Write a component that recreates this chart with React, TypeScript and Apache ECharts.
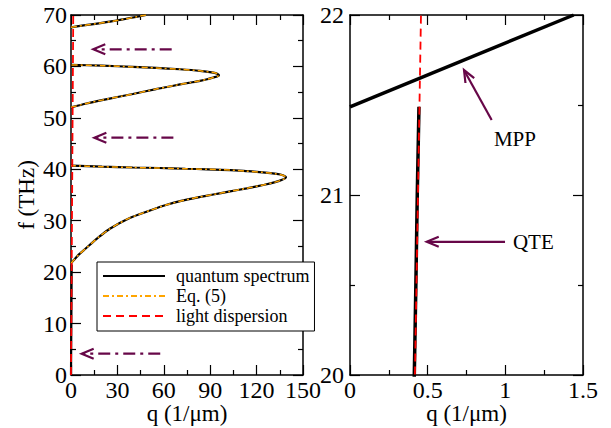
import React, { useEffect, useRef } from "react";
import * as echarts from "echarts";

const FONT = "'Liberation Serif', 'Times New Roman', serif";
const MAROON = "#670748";

// ---- data (q in 1/µm, f in THz) ----
const branch1Q = [0, 2, 5, 9.7, 14, 18.3, 24, 31.2, 37, 44.2, 52, 61.4, 70.5, 83, 92, 102, 113.6, 125, 132, 136.5, 139, 137, 133, 124, 113, 103, 88, 74, 57, 40, 20, 10, 0];
const branch1F = [21.7, 22.4, 23.4, 24.64, 25.8, 26.9, 28.2, 29.5, 30.4, 31.25, 32.1, 33.05, 33.8, 34.6, 35.1, 35.65, 36.3, 37.0, 37.5, 37.95, 38.45, 38.85, 39.1, 39.4, 39.65, 39.85, 40.0, 40.1, 40.25, 40.35, 40.5, 40.6, 40.7];
const branch2Q = [0, 10, 20, 30, 40, 55, 62, 70.5, 77, 83.4, 88, 92, 94.5, 95.7, 94.5, 92, 83.4, 70.5, 55, 40, 20, 0];
const branch2F = [52.05, 52.8, 53.45, 54.05, 54.64, 55.6, 56.0, 56.5, 56.85, 57.2, 57.5, 57.85, 58.05, 58.3, 58.6, 58.8, 59.15, 59.45, 59.7, 59.9, 60.15, 60.3];
const branch3Q = [0, 27, 48.5];
const branch3F = [67.6, 68.8, 70];
const qteQ = [0, 0.414, 0.424, 0.433, 0.444];
const qteF = [0, 20, 20.5, 21, 21.49];
const mppQ = [0, 1.44];
const mppF = [21.49, 22.0];
const lightQ = [0, 0.418, 0.457, 1.454];
const lightF = [0, 20, 22, 70];

// arrows: [qStart, fStart, qEnd(head), fEnd(head)]
const leftArrows = [
  [65.1, 63.33, 14.4, 63.33],
  [66.2, 46.14, 15.1, 46.14],
  [57.7, 4.14, 6.9, 4.14],
];
const rightArrows = [
  [0.912, 21.417, 0.734, 21.694],
  [0.998, 20.74, 0.494, 20.74],
];
const annText = ["MPP", "QTE"];
const annQ = [1.062, 1.18];
const annF = [21.31, 20.74];

const legendNames = ["quantum spectrum", "Eq. (5)", "light dispersion"];

const leftXTicks = { min: 0, max: 150, interval: 30 };
const leftYTicks = { min: 0, max: 70, interval: 10 };
const rightXTicks = { min: 0, max: 1.5, interval: 0.5 };
const rightYTicks = { min: 20, max: 22, interval: 1 };

const pairs = (q: number[], f: number[]) => q.map((v, i) => [v, f[i]]);

function axisCommon(showLabels: boolean, name?: string, nameGap?: number, labelMargin = 5) {
  return {
    type: "value",
    name: name || "",
    nameLocation: "middle",
    nameGap: nameGap || 0,
    nameMoveOverlap: false,
    nameTextStyle: { fontFamily: FONT, fontSize: 23, color: "#000", lineHeight: 22 },
    axisLine: { show: true, onZero: false, lineStyle: { color: "#000", width: 1.5 } },
    axisTick: { show: true, inside: true, length: 10, lineStyle: { color: "#000", width: 1.2 } },
    minorTick: { show: true, splitNumber: 2, length: 5, lineStyle: { color: "#000", width: 1.2 } },
    splitLine: { show: false },
    minorSplitLine: { show: false },
    axisLabel: {
      show: showLabels,
      fontFamily: FONT,
      fontSize: 24,
      lineHeight: 20,
      color: "#000",
      margin: labelMargin,
    },
  };
}

function arrowRender(dash: number[] | null) {
  return (params: any, api: any) => {
    const p1 = api.coord([api.value(0), api.value(1)]);
    const p2 = api.coord([api.value(2), api.value(3)]);
    const ang = Math.atan2(p2[1] - p1[1], p2[0] - p1[0]);
    const L = 12;
    const W = 5;
    const c = Math.cos(ang);
    const s = Math.sin(ang);
    const bx = p2[0] - L * c;
    const by = p2[1] - L * s;
    const h1 = [bx - W * s, by + W * c];
    const h2 = [bx + W * s, by - W * c];
    return {
      type: "group",
      children: [
        {
          type: "line",
          shape: { x1: p1[0], y1: p1[1], x2: p2[0] - 1 * c, y2: p2[1] - 1 * s },
          style: { stroke: MAROON, lineWidth: 2.2, lineDash: dash || undefined, fill: null },
        },
        {
          type: "polyline",
          shape: { points: [h1, p2, h2] },
          style: { stroke: MAROON, lineWidth: 2.2, fill: null },
        },
      ],
    };
  };
}

export default function App() {
  const ref = useRef<HTMLDivElement>(null);

  useEffect(() => {
    if (!ref.current) return;
    const chart = echarts.init(ref.current, undefined, { renderer: "svg" });

    const blackLeft = { color: "#000", width: 2.2, type: "solid" };
    const orange = { color: "#FFA500", width: 1.5, type: [6, 3, 2, 3] };
    const redDash = { color: "#FF0000", width: 1.8, type: [8, 5] };
    const blackRight = { color: "#000", width: 3.5, type: "solid" };

    const lineSeries = (
      name: string,
      data: number[][],
      ls: any,
      xi: number,
      yi: number,
      smooth = false
    ) => ({
      type: "line",
      name,
      data,
      xAxisIndex: xi,
      yAxisIndex: yi,
      showSymbol: false,
      symbol: "none",
      smooth: smooth ? 0.25 : false,
      lineStyle: ls,
      itemStyle: { color: ls.color },
      color: ls.color,
      clip: true,
      silent: true,
      z: 2,
    });

    const option: any = {
      animation: false,
      backgroundColor: "#fff",
      textStyle: { fontFamily: FONT, color: "#000" },
      grid: [
        { left: 71, top: 15, width: 232, height: 360, show: false, containLabel: false, outerBoundsMode: "none" },
        { left: 350, top: 15, width: 233, height: 360, show: false, containLabel: false, outerBoundsMode: "none" },
      ],
      xAxis: [
        { ...axisCommon(true, "q (1/μm)", 27, 5), gridIndex: 0, position: "bottom", ...leftXTicks },
        { ...axisCommon(false), gridIndex: 0, position: "top", ...leftXTicks },
        { ...axisCommon(true, "q (1/μm)", 27, 5), gridIndex: 1, position: "bottom", ...rightXTicks },
        { ...axisCommon(false), gridIndex: 1, position: "top", ...rightXTicks },
      ],
      yAxis: [
        { ...axisCommon(true, "f (THz)", 34, 4), gridIndex: 0, position: "left", ...leftYTicks },
        { ...axisCommon(false), gridIndex: 0, position: "right", ...leftYTicks },
        { ...axisCommon(true, "", 0, 6), gridIndex: 1, position: "left", ...rightYTicks },
        { ...axisCommon(false), gridIndex: 1, position: "right", ...rightYTicks },
      ],
      legend: {
        data: legendNames,
        orient: "vertical",
        left: 97,
        top: 262,
        itemWidth: 62,
        itemHeight: 14,
        itemGap: 2,
        padding: [5, 5, 6, 5],
        borderColor: "#000",
        borderWidth: 1,
        borderRadius: 0,
        backgroundColor: "#fff",
        selectedMode: false,
        itemStyle: { opacity: 0 },
        textStyle: { fontFamily: FONT, fontSize: 18, color: "#000", padding: [0, 0, 0, 6] },
        z: 10,
      },
      series: [
        // left panel
        lineSeries(legendNames[0], pairs(qteQ, qteF), blackLeft, 0, 0),
        lineSeries(legendNames[0], pairs(branch1Q, branch1F), blackLeft, 0, 0, true),
        lineSeries(legendNames[0], pairs(branch2Q, branch2F), blackLeft, 0, 0, true),
        lineSeries(legendNames[0], pairs(branch3Q, branch3F), blackLeft, 0, 0, true),
        lineSeries(legendNames[1], pairs(branch1Q, branch1F), orange, 0, 0, true),
        lineSeries(legendNames[1], pairs(branch2Q, branch2F), orange, 0, 0, true),
        lineSeries(legendNames[1], pairs(branch3Q, branch3F), orange, 0, 0, true),
        lineSeries(legendNames[2], pairs(lightQ, lightF), redDash, 0, 0),
        {
          type: "custom",
          name: "arrowsLeft",
          coordinateSystem: "cartesian2d",
          xAxisIndex: 0,
          yAxisIndex: 0,
          data: leftArrows,
          encode: { x: [0, 2], y: [1, 3] },
          renderItem: arrowRender([12, 5, 3, 5]),
          silent: true,
          z: 3,
        },
        // right panel
        lineSeries(legendNames[0], pairs(mppQ, mppF), blackRight, 2, 2),
        lineSeries(legendNames[0], pairs(qteQ, qteF), blackRight, 2, 2),
        lineSeries(legendNames[2], pairs(lightQ, lightF), redDash, 2, 2),
        {
          type: "custom",
          name: "arrowsRight",
          coordinateSystem: "cartesian2d",
          xAxisIndex: 2,
          yAxisIndex: 2,
          data: rightArrows,
          encode: { x: [0, 2], y: [1, 3] },
          renderItem: arrowRender(null),
          silent: true,
          z: 3,
        },
        {
          type: "custom",
          name: "annotations",
          coordinateSystem: "cartesian2d",
          xAxisIndex: 2,
          yAxisIndex: 2,
          data: pairs(annQ, annF),
          renderItem: (params: any, api: any) => {
            const p = api.coord([api.value(0), api.value(1)]);
            return {
              type: "text",
              x: p[0],
              y: p[1],
              style: {
                text: annText[params.dataIndex],
                fontFamily: FONT,
                fontSize: 21,
                fill: "#000",
                align: "center",
                verticalAlign: "middle",
              },
            };
          },
          silent: true,
          z: 3,
        },
      ],
    };

    chart.setOption(option);
    return () => chart.dispose();
  }, []);

  return (
    <div
      ref={ref}
      style={{ position: "fixed", left: 0, top: 0, width: 611, height: 428, background: "#fff" }}
    />
  );
}
